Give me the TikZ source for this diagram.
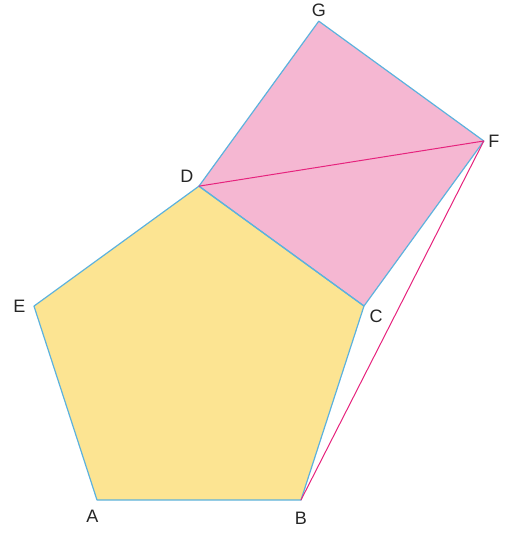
\documentclass[tikz,border=0pt]{standalone}
\usepackage{fontspec}
\setsansfont{Liberation Sans}
\usetikzlibrary{arrows,calc}
\usepackage{tkz-euclide}
\definecolor{PentaClr}{RGB}{252,228,146}
\definecolor{SquareClr}{RGB}{245,183,210}
\definecolor{EdgeClr}{RGB}{92,178,222}
\definecolor{DiagClr}{RGB}{230,35,125}
\tikzset{PtLbl/.style={font=\sffamily\fontsize{18}{20}\selectfont,text=black!85}}

\begin{document}
\begin{tikzpicture}[scale=.3514]
\useasboundingbox (0,0) rectangle (51.1,53.3);

\tkzDefPoints{9.7/3.3/A,30.1/3.3/B}

\tkzDefPointBy[rotation=center B angle -108](A) \tkzGetPoint{C}
\tkzDefPointBy[rotation=center C angle -108](B) \tkzGetPoint{D}
\tkzDefPointBy[rotation=center D angle -108](C) \tkzGetPoint{E}

\tkzDefPointBy[rotation=center C angle -90](D) \tkzGetPoint{F}
\tkzDefPointBy[rotation=center D angle 90](C) \tkzGetPoint{G}

\tkzFillPolygon[fill=PentaClr](A,B,C,D,E)
\tkzFillPolygon[fill=SquareClr](D,C,F,G)

\tkzDrawPolygon[line width=1.2pt,color=EdgeClr](A,B,C,D,E)
\tkzDrawPolygon[line width=1.2pt,color=EdgeClr](D,C,F,G)

\tkzDrawSegment[line width=1pt,color=DiagClr](D,F)
\tkzDrawSegment[line width=1pt,color=DiagClr](B,F)

\tkzLabelPoint[PtLbl,below left=7pt and -5pt](A){A}
\tkzLabelPoint[PtLbl,below=9pt](B){B}
\tkzLabelPoint[PtLbl,below right=0pt and 2pt](C){C}
\tkzLabelPoint[PtLbl,above left=0pt and 2pt](D){D}
\tkzLabelPoint[PtLbl,left=5pt](E){E}
\tkzLabelPoint[PtLbl,right=1pt](F){F}
\tkzLabelPoint[PtLbl,above=1pt](G){G}

\end{tikzpicture}
\end{document}
